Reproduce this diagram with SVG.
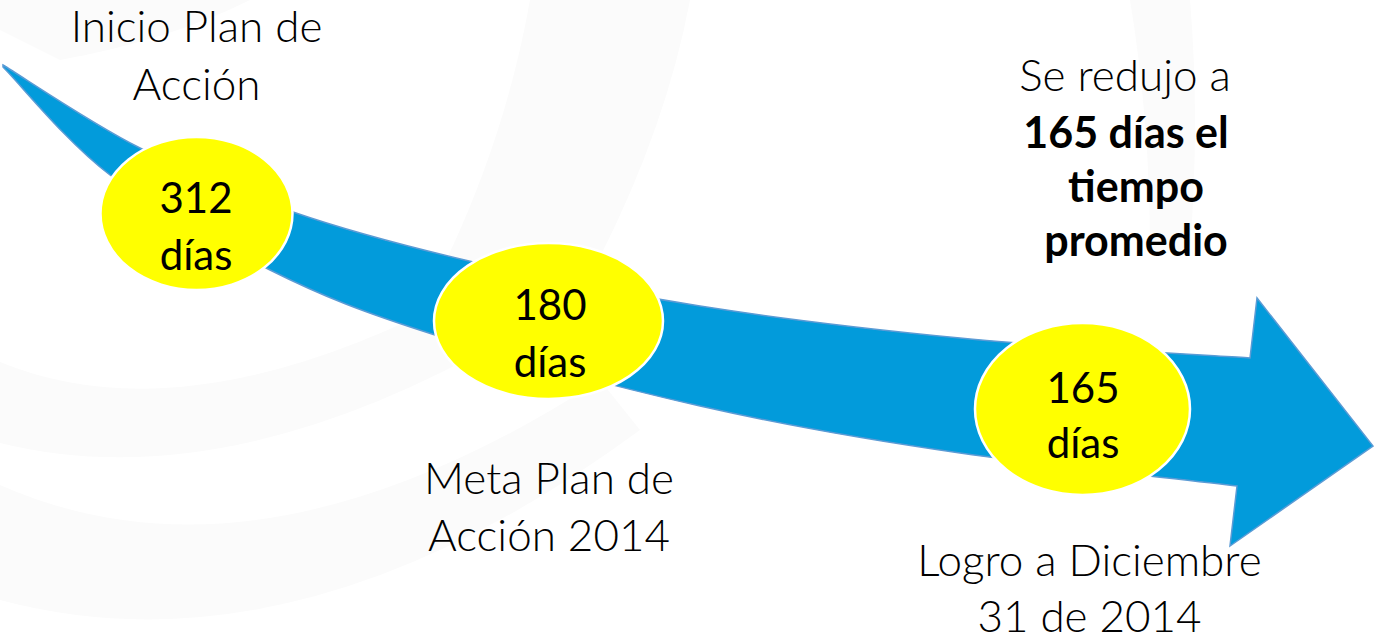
<svg xmlns="http://www.w3.org/2000/svg" width="1378" height="640" viewBox="0 0 1378 640">
<style>
.bg{fill:#fbfbfb;stroke:none}
.arrow{fill:#029bdb;stroke:#5b9bd5;stroke-width:1.5;stroke-linejoin:miter}
.oval{fill:#ffff00;stroke:#ffffff;stroke-width:2.5}
.num{font-family:Lato,"Liberation Sans",sans-serif;font-size:42px;fill:#000;text-anchor:middle}
.lbl{font-family:Lato,"Liberation Sans",sans-serif;font-weight:300;font-size:44px;fill:#000;text-anchor:middle}
.bold{font-family:Lato,"Liberation Sans",sans-serif;font-weight:bold;font-size:43px;fill:#000;text-anchor:middle}
</style>
<rect width="1378" height="640" fill="#ffffff"/>
<g id="background">
<path class="bg" d="M0,362 Q190,440 470,290 L520,330 Q230,500 0,443 Z"/>
<path class="bg" d="M0,485 Q260,600 600,380 L640,430 Q300,680 0,600 Z"/>
<path class="bg" d="M530,0 L690,0 Q660,160 560,330 L410,330 Q500,170 530,0 Z"/>
<path class="bg" d="M1130,0 L1190,0 Q1200,120 1190,250 L1150,250 Q1150,120 1130,0 Z"/>
<path class="bg" d="M0,0 L250,0 Q170,40 60,60 Q20,40 0,30 Z"/>
</g>
<g id="connectors">
<path class="arrow" d="M3,65 C26,79 92,124 140,148 C188,172 238,193 293,212 C348,231 401,245 469,261 C537,277 618,293 700,306 C782,319 868,329 960,338 C1052,347 1202,355 1250,358 L1257,298 L1373,446 L1230,546 L1237,486 C1191,480 1049,466 960,453 C870,440 788,426 700,406 C612,386 507,358 435,335 C363,312 324,297 270,270 C216,243 154.5,209 110,175 C65.5,141 21,85 3,67 Z"/>
</g>
<g id="node-312">
<ellipse class="oval" cx="196.5" cy="213.5" rx="96" ry="76.5"/>
<text class="num" x="196" y="213">312</text>
<text class="num" x="196" y="270">días</text>
</g>
<g id="node-180">
<ellipse class="oval" cx="548.5" cy="321" rx="114.5" ry="78"/>
<text class="num" x="550" y="320">180</text>
<text class="num" x="550" y="377">días</text>
</g>
<g id="node-165">
<ellipse class="oval" cx="1082.5" cy="409" rx="107.5" ry="86"/>
<text class="num" x="1083" y="403">165</text>
<text class="num" x="1083" y="458">días</text>
</g>
<g id="label-inicio">
<text class="lbl" x="196.5" y="42" font-size="45">Inicio Plan de</text>
<text class="lbl" x="196.5" y="100" font-size="45">Acción</text>
</g>
<g id="label-meta">
<text class="lbl" x="549" y="494">Meta Plan de</text>
<text class="lbl" x="549" y="551">Acción 2014</text>
</g>
<g id="label-logro">
<text class="lbl" x="1089.5" y="576">Logro a Diciembre</text>
<text class="lbl" x="1089.5" y="632">31 de 2014</text>
</g>
<g id="label-redujo">
<text class="lbl" x="1125" y="91">Se redujo a</text>
<text class="bold" x="1126" y="148">165 días el</text>
<text class="bold" x="1136" y="202">tiempo</text>
<text class="bold" x="1136" y="256">promedio</text>
</g>
</svg>
